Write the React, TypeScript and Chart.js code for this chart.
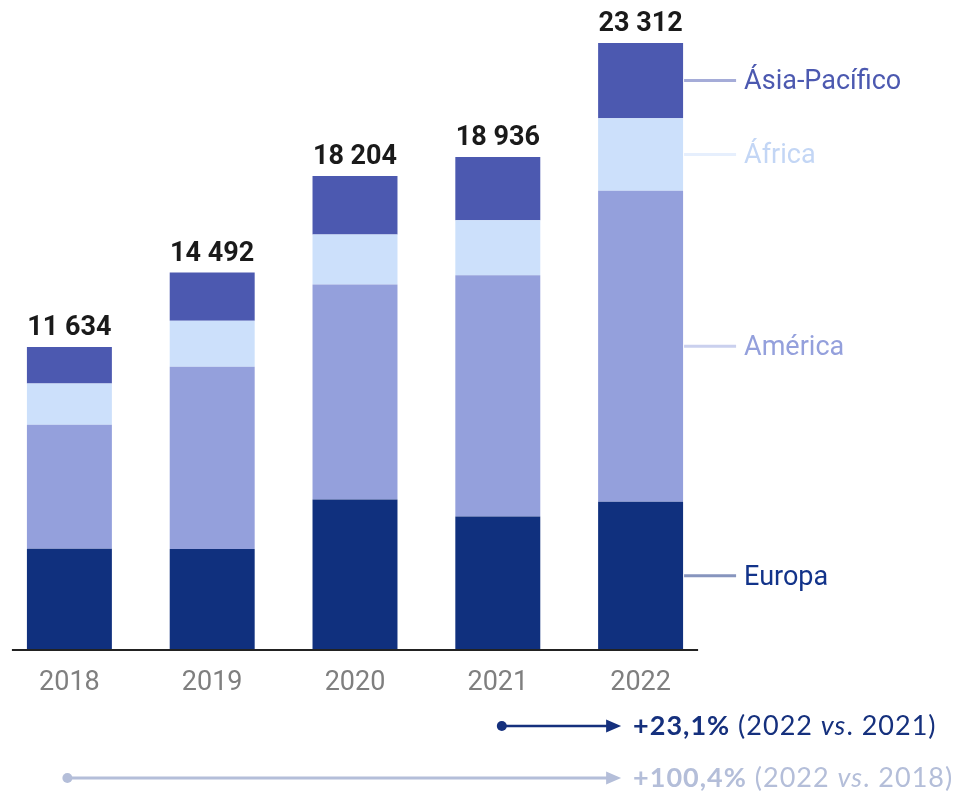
import React, { useEffect, useRef } from "react";
import { Chart, registerables } from "chart.js";

Chart.register(...registerables);

const years = ["2018", "2019", "2020", "2021", "2022"];
const europa = [3884, 3880, 5780, 5123, 5697];
const america = [4766, 7001, 8255, 9270, 11943];
const africa = [1586, 1766, 1925, 2112, 2780];
const asia = [1398, 1845, 2244, 2431, 2892];
const totals = [11634, 14492, 18204, 18936, 23312];
const seriesNames = ["Europa", "América", "África", "Ásia-Pacífico"];
const seriesColors = ["#10307E", "#94A0DC", "#CCE0FB", "#4C59B0"];
const lineColors = ["#8795BE", "#CAD0EE", "#E6EFFD", "#A5ACD8"];
const textColors = ["#12338A", "#94A0DC", "#C3D6F5", "#4C59B0"];
const growthNotes = [
  { bold: "+23,1%", a: " (2022 ", it: "vs", b: ". 2021)", from: 3, color: "#15307D" },
  { bold: "+100,4%", a: " (2022 ", it: "vs", b: ". 2018)", from: 0, color: "#B4BED9" },
];

const fmt = (n: number) => String(n).replace(/\B(?=(\d{3})+(?!\d))/g, " ");

const overlay = {
  id: "overlay",
  afterDraw(chart: any) {
    const ctx = chart.ctx;
    const x = chart.scales.x;
    const y = chart.scales.y;
    const first = chart.getDatasetMeta(0).data;
    const baseY = y.getPixelForValue(0);
    const half = first[0].width / 2;
    ctx.save();
    // axis line
    ctx.strokeStyle = "#222222";
    ctx.lineWidth = 2;
    ctx.beginPath();
    ctx.moveTo(x.getPixelForValue(0) - half - 15, baseY);
    ctx.lineTo(x.getPixelForValue(years.length - 1) + half + 15, baseY);
    ctx.stroke();
    // x labels
    ctx.fillStyle = "#7F7F7F";
    ctx.font = "27px Roboto";
    ctx.textAlign = "center";
    ctx.textBaseline = "alphabetic";
    years.forEach((yr, i) => ctx.fillText(yr, x.getPixelForValue(i), baseY + 40));
    // totals
    ctx.fillStyle = "#1A1A1A";
    ctx.font = "bold 27px Roboto";
    totals.forEach((t, i) => {
      ctx.fillText(fmt(t), x.getPixelForValue(i), y.getPixelForValue(t) - 12);
    });
    // right series labels
    const last = years.length - 1;
    ctx.textAlign = "left";
    ctx.textBaseline = "middle";
    ctx.font = "27px Roboto";
    chart.data.datasets.forEach((ds: any, di: number) => {
      const el = chart.getDatasetMeta(di).data[last];
      const ym = (el.y + el.base) / 2;
      const xr = el.x + el.width / 2;
      ctx.strokeStyle = lineColors[di];
      ctx.lineWidth = 3;
      ctx.beginPath();
      ctx.moveTo(xr + 1, ym);
      ctx.lineTo(xr + 53, ym);
      ctx.stroke();
      ctx.fillStyle = textColors[di];
      ctx.fillText(ds.label, xr + 61, ym + 2);
    });
    // growth notes
    const tipX = x.getPixelForValue(last) - half + 23;
    growthNotes.forEach((g, k) => {
      const yy = k === 0 ? 726 : 778;
      const x0 = x.getPixelForValue(g.from) + (k === 0 ? 4 : -2);
      ctx.fillStyle = g.color;
      ctx.strokeStyle = g.color;
      ctx.lineWidth = k === 0 ? 2.5 : 3;
      ctx.beginPath();
      ctx.arc(x0, yy, 5, 0, Math.PI * 2);
      ctx.fill();
      ctx.beginPath();
      ctx.moveTo(x0, yy);
      ctx.lineTo(tipX - 12, yy);
      ctx.stroke();
      ctx.beginPath();
      ctx.moveTo(tipX, yy);
      ctx.lineTo(tipX - 15, yy - 6.5);
      ctx.lineTo(tipX - 15, yy + 6.5);
      ctx.closePath();
      ctx.fill();
      let tx = tipX + 12;
      const by = yy + 9;
      ctx.textBaseline = "alphabetic";
      (ctx as any).letterSpacing = "1px";
      const parts = [
        { t: g.bold, f: "bold 27px Lato" },
        { t: g.a, f: "27px Lato" },
        { t: g.it, f: "italic 27px Lato" },
        { t: g.b, f: "27px Lato" },
      ];
      parts.forEach((p) => {
        ctx.font = p.f;
        ctx.fillText(p.t, tx, by);
        tx += ctx.measureText(p.t).width;
      });
      (ctx as any).letterSpacing = "0px";
    });
    ctx.restore();
  },
};

export default function App() {
  const ref = useRef<HTMLCanvasElement>(null);
  useEffect(() => {
    if (!ref.current) return;
    const seriesData = [europa, america, africa, asia];
    const chart = new Chart(ref.current, {
      type: "bar",
      data: {
        labels: years,
        datasets: seriesData.map((d, i) => ({
          label: seriesNames[i],
          data: d,
          backgroundColor: seriesColors[i],
          borderWidth: 0,
          categoryPercentage: 1,
          barPercentage: 0.595,
        })),
      },
      options: {
        responsive: false,
        animation: false,
        devicePixelRatio: 1,
        layout: { padding: { top: 25, bottom: 144, left: 0, right: 242 } },
        plugins: { legend: { display: false }, tooltip: { enabled: false } },
        scales: {
          x: { stacked: true, display: false },
          y: { stacked: true, display: false, min: 0, max: 24000 },
        },
      },
      plugins: [overlay],
    });
    return () => chart.destroy();
  }, []);
  return (
    <canvas
      ref={ref}
      width={956}
      height={794}
      style={{ position: "absolute", left: -2, top: 0, width: 956, height: 794 }}
    />
  );
}
